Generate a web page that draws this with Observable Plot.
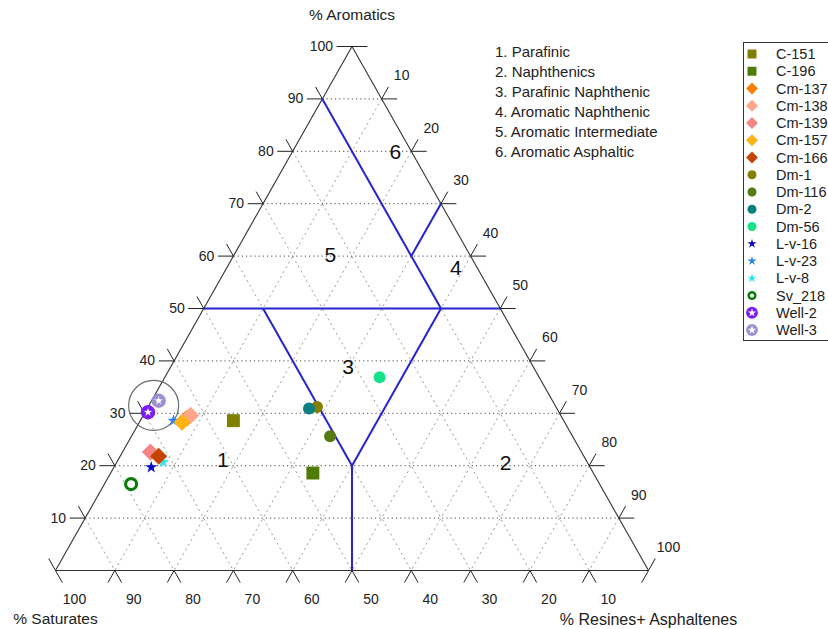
<!DOCTYPE html>
<html>
<head>
<meta charset="utf-8">
<script src="https://cdn.jsdelivr.net/npm/d3@7"></script>
<script src="https://cdn.jsdelivr.net/npm/@observablehq/plot@0.6"></script>
<style>
  body { margin: 0; background: #fff; overflow: hidden; font-family: "Liberation Sans", Arial, sans-serif; }
  #wrap { position: relative; width: 828px; height: 629px; overflow: hidden; }
  #wrap > svg { position: absolute; left: 0; top: 0; }
  #types { position: absolute; left: 495px; top: 42px; font-size: 15px; line-height: 20px; color: #222; white-space: nowrap; }
  #legend { position: absolute; left: 743px; top: 42px; width: 120px; height: 297px; border: 1px solid #333; background: #fff; }
</style>
</head>
<body>
<div id="wrap"></div>
<script>
// Crude oil group composition (%), one entry per sample
const samples = ["C-151","C-196","Cm-137","Cm-138","Cm-139","Cm-157","Cm-166","Dm-1","Dm-116","Dm-2","Dm-56","L-v-16","L-v-23","L-v-8","Sv_218","Well-2","Well-3"];
const aromatics = [28.6, 18.6, 29.0, 29.6, 22.6, 28.3, 21.8, 31.2, 25.6, 30.9, 36.9, 19.7, 28.6, 20.7, 16.5, 30.2, 32.4];
const saturates = [55.7, 47.3, 63.4, 62.4, 72.7, 64.5, 71.7, 40.3, 40.9, 41.8, 26.9, 74.0, 65.8, 71.5, 79.0, 69.3, 66.4];
const resins    = [15.7, 34.1,  7.6,  8.0,  4.7,  7.2,  6.5, 28.5, 33.5, 27.3, 36.2,  6.3,  5.6,  7.8,  4.5,  0.5,  1.2];
const kinds  = ["square","square","diamond","diamond","diamond","diamond","diamond","circle","circle","circle","circle","star","star","star","ring","well","well"];
const colors = ["#808000","#4f7c05","#ff8000","#ffa589","#f68585","#ffb319","#c74300","#858000","#577a12","#0b8080","#15e187","#0a0acc","#2a84f2","#2ee6f0","#0a7d0a","#7b1cf5","#9d90d2"];

// Highlighted group (circled samples)
const highlightAromatics = [31.5];
const highlightResins = [0.8];

// Axis ticks
const tickValues = [0, 10, 20, 30, 40, 50, 60, 70, 80, 90, 100];
const gridLevels = [10, 20, 30, 40, 50, 60, 70, 80, 90];

// Oil type field boundaries, as [aromatics, saturates, resins] end points
const boundaryStart = [[90, 10, 0], [60, 10, 30], [50, 50, 0], [50, 40, 10], [50, 10, 40], [20, 40, 40]];
const boundaryEnd   = [[50, 10, 40], [70, 0, 30], [50, 0, 50], [20, 40, 40], [20, 40, 40], [0, 50, 50]];

// Field numbers and where they sit (aromatics, resins)
const fieldNumbers = ["1", "2", "3", "4", "5", "6"];
const fieldAromatics = [21.0, 20.4, 38.7, 57.6, 60.1, 79.8];
const fieldResins    = [17.7, 65.7, 30.0, 38.7, 16.3, 17.4];
const fieldNames = ["Parafinic", "Naphthenics", "Parafinic Naphthenic", "Aromatic Naphthenic", "Aromatic Intermediate", "Aromatic Asphaltic"];

// Ternary -> planar: x runs along the base, y is the aromatics height
const px = (a, r) => r + a / 2;

const points = samples.map((name, i) => ({
  name, kind: kinds[i], color: colors[i],
  x: px(aromatics[i], resins[i]), y: aromatics[i]
}));

const grid = [
  ...gridLevels.map(a => ({x1: px(a, 0), y1: a, x2: px(a, 100 - a), y2: a, dir: "h"})),
  ...gridLevels.map(s => ({x1: px(100 - s, 0), y1: 100 - s, x2: px(0, 100 - s), y2: 0, dir: "d"})),
  ...gridLevels.map(r => ({x1: px(100 - r, r), y1: 100 - r, x2: px(0, r), y2: 0, dir: "d"}))
];

const edges = [
  {x1: 0, y1: 0, x2: 100, y2: 0},
  {x1: 0, y1: 0, x2: 50, y2: 100},
  {x1: 100, y1: 0, x2: 50, y2: 100}
];

// Tick legs extend the grid directions outside the triangle
const h = 2.6, d = 2.3;
const ticks = [];
for (const v of tickValues) {
  // left side: aromatics
  const lx = px(v, 0);
  if (v >= 10) ticks.push({x1: lx, y1: v, x2: lx - h, y2: v});
  if (v <= 90) ticks.push({x1: lx, y1: v, x2: lx - d / 2, y2: v + d});
  // right side: resins + asphaltenes
  const rx = px(100 - v, v), ry = 100 - v;
  if (v <= 90) ticks.push({x1: rx, y1: ry, x2: rx + h, y2: ry});
  if (v >= 10) ticks.push({x1: rx, y1: ry, x2: rx + d / 2, y2: ry + d});
  // base: saturates
  const bx = 100 - v;
  if (v <= 90) ticks.push({x1: bx, y1: 0, x2: bx - d / 2, y2: -d});
  if (v >= 10) ticks.push({x1: bx, y1: 0, x2: bx + d / 2, y2: -d});
}

const labelValues = tickValues.filter(v => v > 0);
const leftLabels = labelValues.map(v => ({x: px(v, 0), y: v, t: String(v)}));
const rightLabels = labelValues.map(v => ({x: px(100 - v, v), y: 100 - v, t: String(v)}));
const baseLabels = labelValues.map(v => ({x: 100 - v, y: 0, t: String(v)}));

const boundaries = boundaryStart.map((p, i) => ({
  x1: px(p[0], p[2]), y1: p[0],
  x2: px(boundaryEnd[i][0], boundaryEnd[i][2]), y2: boundaryEnd[i][0]
}));

const fields = fieldNumbers.map((t, i) => ({t, x: px(fieldAromatics[i], fieldResins[i]), y: fieldAromatics[i]}));
const highlight = highlightAromatics.map((a, i) => ({x: px(a, highlightResins[i]), y: a}));

const of = k => points.filter(p => p.kind === k);
const ink = "#222";

const chart = Plot.plot({
  width: 828,
  height: 629,
  x: {domain: [0, 100], range: [55, 648], axis: null},
  y: {domain: [0, 100], range: [570, 46], axis: null},
  color: {type: "identity"},
  style: {fontFamily: "'Liberation Sans', Arial, sans-serif", fontSize: "14px", background: "white", color: ink},
  marks: [
    Plot.link(grid.filter(g => g.dir === "d"), {x1: "x1", y1: "y1", x2: "x2", y2: "y2", stroke: "#9a9a9a", strokeWidth: 1, strokeDasharray: "2,3.5"}),
    Plot.link(grid.filter(g => g.dir === "h"), {x1: "x1", y1: "y1", x2: "x2", y2: "y2", stroke: "#444", strokeWidth: 1, strokeDasharray: "1.2,3"}),
    Plot.link(edges, {x1: "x1", y1: "y1", x2: "x2", y2: "y2", stroke: "#333", strokeWidth: 1.1}),
    Plot.link(ticks, {x1: "x1", y1: "y1", x2: "x2", y2: "y2", stroke: "#222", strokeWidth: 1}),
    Plot.link(boundaries, {x1: "x1", y1: "y1", x2: "x2", y2: "y2", stroke: "#2424d0", strokeWidth: 2}),
    Plot.text(leftLabels, {x: "x", y: "y", text: "t", textAnchor: "end", dx: -19, fill: ink}),
    Plot.text(rightLabels, {x: "x", y: "y", text: "t", dx: 20, dy: -23, fill: ink}),
    Plot.text(baseLabels, {x: "x", y: "y", text: "t", dx: 19, dy: 29, fill: ink}),
    Plot.text(fields, {x: "x", y: "y", text: "t", fontSize: 21, fill: "#111"}),
    Plot.text(["% Aromatics"], {x: 50, y: 100, text: d => d, dy: -31, fontSize: 15.5, fill: ink}),
    Plot.text(["% Saturates"], {x: 0, y: 0, text: d => d, dy: 49, fontSize: 15.5, fill: ink}),
    Plot.text(["% Resines+ Asphaltenes"], {x: 100, y: 0, text: d => d, dy: 49, fontSize: 16, fill: ink}),
    Plot.dot(highlight, {x: "x", y: "y", r: 25, stroke: "#6a6a6a", strokeWidth: 1.2, fill: "none"}),
    Plot.dot(of("square"), {x: "x", y: "y", symbol: "square", r: 7.3, fill: "color"}),
    Plot.dot(of("circle"), {x: "x", y: "y", symbol: "circle", r: 6, fill: "color"}),
    Plot.dot(of("star"), {x: "x", y: "y", symbol: "star", r: 3.8, fill: "color"}),
    Plot.dot(of("diamond"), {x: "x", y: "y", symbol: "diamond2", r: 7.7, fill: "color"}),
    Plot.dot(of("ring"), {x: "x", y: "y", symbol: "circle", r: 5.5, fill: "none", stroke: "color", strokeWidth: 3.2}),
    // wells: coloured disc with a white star inset
    Plot.dot(of("well"), {x: "x", y: "y", symbol: "circle", r: 7.2, fill: "color"}),
    Plot.dot(of("well"), {x: "x", y: "y", symbol: "star", r: 3.3, fill: "white", stroke: "color", strokeWidth: 0.8})
  ]
});

const wrap = document.getElementById("wrap");
wrap.appendChild(chart);

// Oil type key
const types = document.createElement("div");
types.id = "types";
types.innerHTML = fieldNames.map((n, i) => `${fieldNumbers[i]}. ${n}`).join("<br>");
wrap.appendChild(types);

// Sample legend
const legend = document.createElement("div");
legend.id = "legend";
wrap.appendChild(legend);
const lsvg = d3.select(legend).append("svg").attr("width", 120).attr("height", 297)
  .style("font-family", "'Liberation Sans', Arial, sans-serif").style("font-size", "14.5px");
const shapes = {
  square: {type: d3.symbolSquare, size: 80},
  diamond: {type: d3.symbolDiamond2, size: 90},
  circle: {type: d3.symbolCircle, size: 64},
  star: {type: d3.symbolStar, size: 26},
  ring: {type: d3.symbolCircle, size: 34},
  well: {type: d3.symbolCircle, size: 110}
};
const rows = lsvg.selectAll("g").data(points).join("g")
  .attr("transform", (p, i) => `translate(8,${11 + i * 17.25})`);
rows.append("path")
  .attr("d", p => d3.symbol(shapes[p.kind].type, shapes[p.kind].size)())
  .attr("fill", p => p.kind === "ring" ? "none" : p.color)
  .attr("stroke", p => p.kind === "ring" ? p.color : "none")
  .attr("stroke-width", 2.6);
rows.filter(p => p.kind === "well").append("path")
  .attr("d", d3.symbol(d3.symbolStar, 22)())
  .attr("fill", "white");
rows.append("text").attr("x", 24).attr("dy", "0.35em").attr("fill", ink).text(p => p.name);
</script>
</body>
</html>
